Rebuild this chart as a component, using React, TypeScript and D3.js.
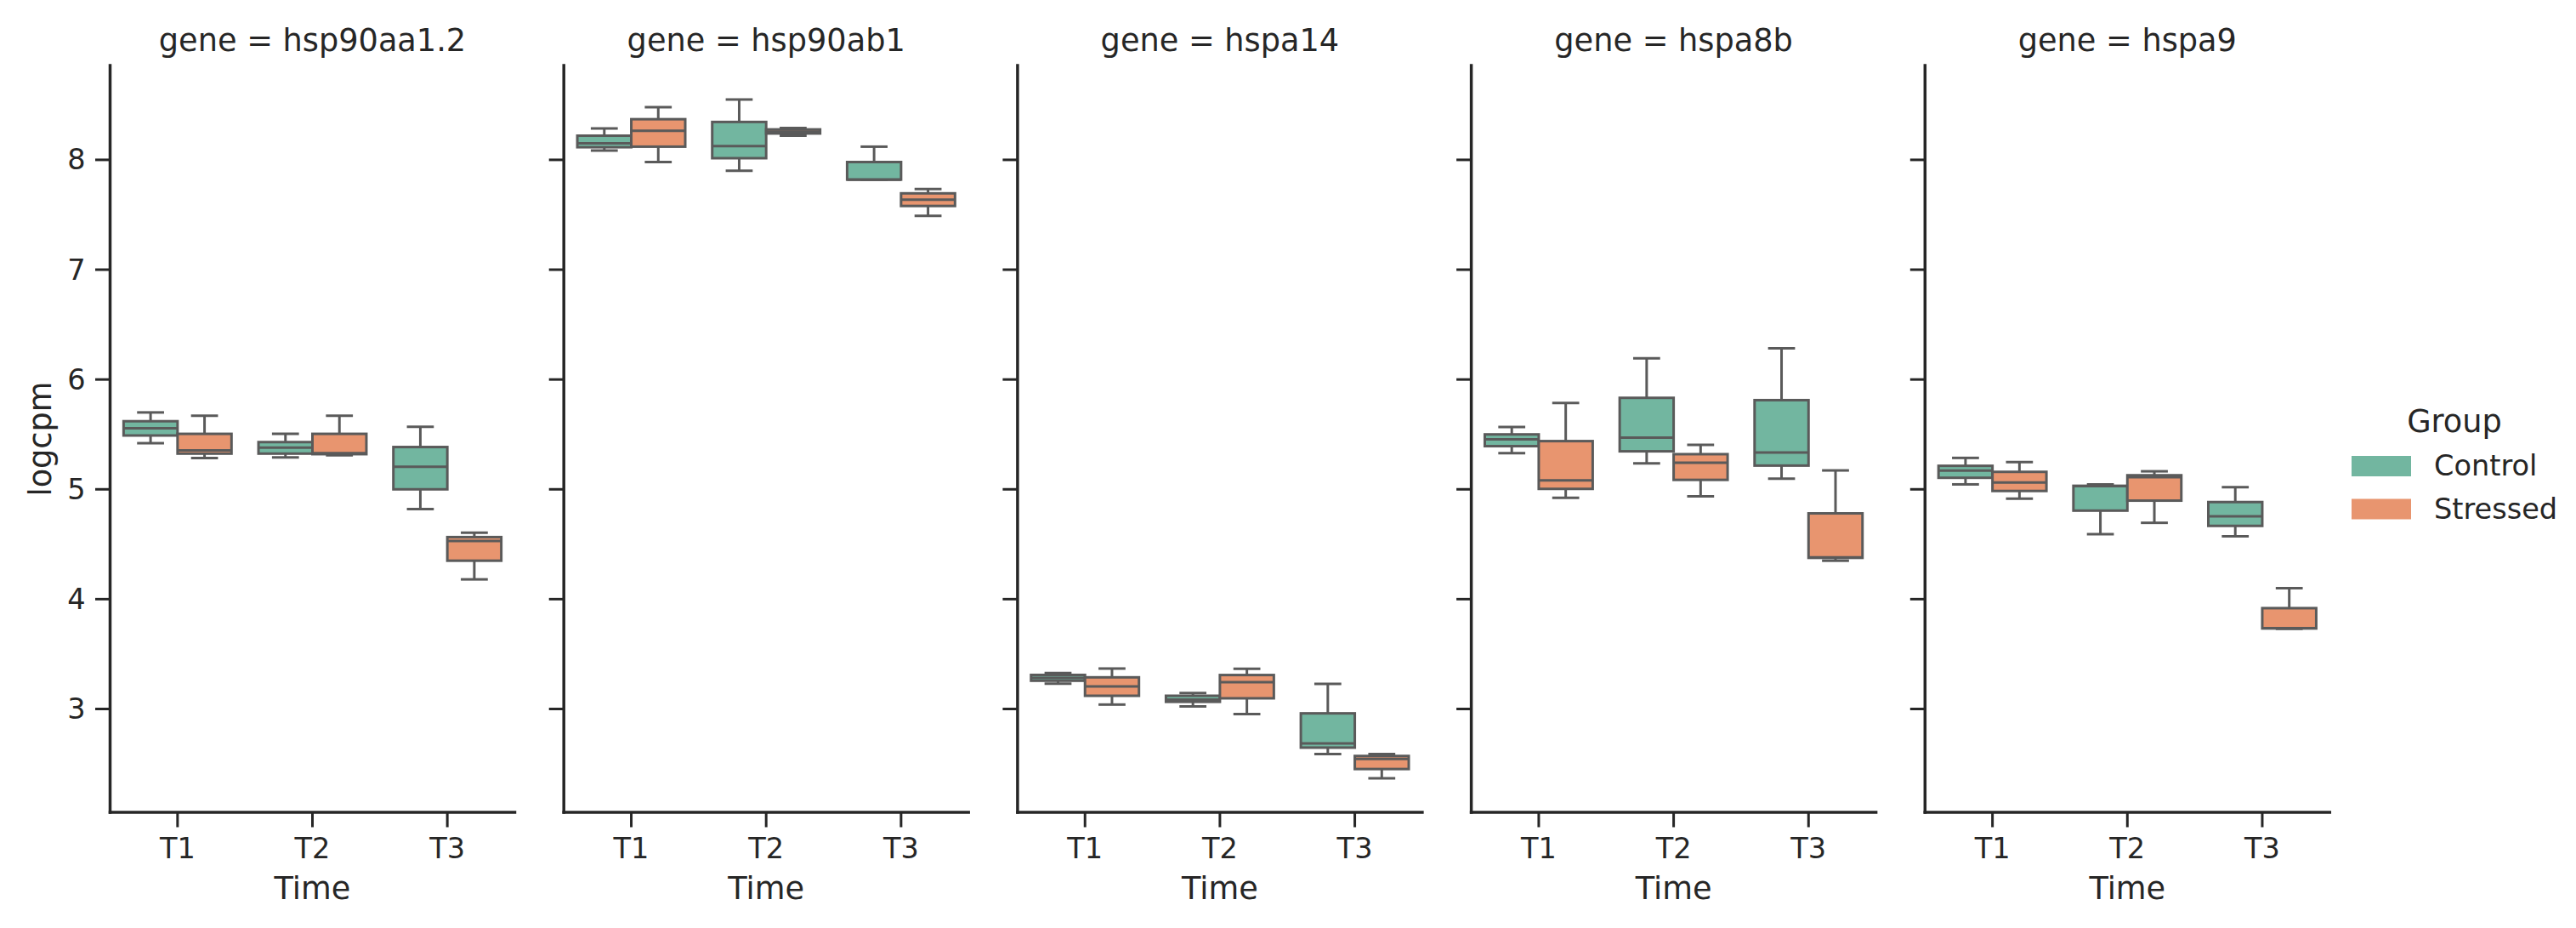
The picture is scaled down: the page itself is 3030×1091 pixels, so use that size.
import React from "react";
import * as d3 from "d3";

const genes = ["hsp90aa1.2", "hsp90ab1", "hspa14", "hspa8b", "hspa9"];
const times = ["T1", "T2", "T3"];
const groups = ["Control", "Stressed"];
const yTicks = [3, 4, 5, 6, 7, 8];

// [whiskerLow, q1, median, q3, whiskerHigh] per gene, per time
const controlStats: number[][][] = [
  [[5.42, 5.49, 5.555, 5.62, 5.70], [5.29, 5.325, 5.38, 5.43, 5.505], [4.82, 5.0, 5.205, 5.385, 5.57]],
  [[8.085, 8.115, 8.15, 8.22, 8.285], [7.9, 8.015, 8.125, 8.345, 8.55], [7.82, 7.82, 7.82, 7.98, 8.12]],
  [[3.23, 3.257, 3.282, 3.31, 3.327], [3.023, 3.065, 3.085, 3.12, 3.145], [2.59, 2.648, 2.687, 2.96, 3.228]],
  [[5.33, 5.393, 5.455, 5.5, 5.568], [5.237, 5.346, 5.47, 5.833, 6.193], [5.096, 5.216, 5.335, 5.812, 6.284]],
  [[5.045, 5.105, 5.17, 5.214, 5.286], [4.592, 4.806, 5.03, 5.032, 5.045], [4.573, 4.667, 4.755, 4.884, 5.019]],
];
const stressedStats: number[][][] = [
  [[5.285, 5.325, 5.355, 5.505, 5.67], [5.31, 5.32, 5.33, 5.505, 5.67], [4.18, 4.35, 4.53, 4.565, 4.605]],
  [[7.98, 8.12, 8.265, 8.37, 8.48], [8.22, 8.24, 8.257, 8.277, 8.29], [7.49, 7.58, 7.637, 7.695, 7.735]],
  [[3.04, 3.12, 3.205, 3.288, 3.368], [2.953, 3.097, 3.244, 3.309, 3.365], [2.368, 2.453, 2.544, 2.572, 2.59]],
  [[4.923, 5.004, 5.082, 5.439, 5.786], [4.936, 5.086, 5.242, 5.32, 5.405], [4.35, 4.376, 4.381, 4.781, 5.172]],
  [[4.915, 4.985, 5.063, 5.159, 5.247], [4.695, 4.897, 5.11, 5.128, 5.164], [3.729, 3.733, 3.736, 3.918, 4.099]],
];

const groupColors = ["#72b6a0", "#e8956f"];

const W = 3030;
const H = 1091;
const FONT = "'DejaVu Sans', sans-serif";
const TEXT = "#262626";
const LINE = "#5a5a5a";

export default function App() {
  const top = 77;
  const bottom = 955;
  const panelLeft0 = 129.5;
  const panelStep = 533.7;
  const panelW = 476;

  const all = [...controlStats, ...stressedStats].flat(2);
  const lo = d3.min(all) as number;
  const hi = d3.max(all) as number;
  const pad = (hi - lo) * 0.05;
  const y = d3.scaleLinear().domain([lo - pad, hi + pad]).range([bottom, top]);
  const x = d3.scaleBand().domain(times).range([0, panelW]).padding(0);
  const bw = x.bandwidth();
  const boxW = bw * 0.4;

  const stats = [controlStats, stressedStats];

  return (
    <svg
      width={W}
      height={H}
      style={{ position: "absolute", left: 0, top: 0, background: "#fff" }}
      fontFamily={FONT}
    >
      <rect x={0} y={0} width={W} height={H} fill="#fff" />
      {genes.map((g, gi) => {
        const left = panelLeft0 + gi * panelStep;
        return (
          <g key={g} transform={`translate(${left},0)`}>
            <text x={panelW / 2} y={60} textAnchor="middle" fontSize={36.7} fill={TEXT}>
              {`gene = ${g}`}
            </text>
            {/* boxes */}
            {times.map((t, ti) => {
              const cx = (x(t) as number) + bw / 2;
              return groups.map((grp, j) => {
                const [wl, q1, med, q3, wh] = stats[j][gi][ti];
                const x0 = cx - 0.4 * bw + j * boxW;
                const mid = x0 + boxW / 2;
                const capHalf = boxW / 4;
                return (
                  <g key={`${t}-${grp}`}>
                    <line x1={mid} x2={mid} y1={y(q3)} y2={y(wh)} stroke={LINE} strokeWidth={3} />
                    <line x1={mid} x2={mid} y1={y(q1)} y2={y(wl)} stroke={LINE} strokeWidth={3} />
                    <line x1={mid - capHalf} x2={mid + capHalf} y1={y(wh)} y2={y(wh)} stroke={LINE} strokeWidth={3} />
                    <line x1={mid - capHalf} x2={mid + capHalf} y1={y(wl)} y2={y(wl)} stroke={LINE} strokeWidth={3} />
                    <rect
                      x={x0}
                      y={y(q3)}
                      width={boxW}
                      height={Math.max(y(q1) - y(q3), 0.5)}
                      fill={groupColors[j]}
                      stroke={LINE}
                      strokeWidth={3}
                    />
                    <line x1={x0} x2={x0 + boxW} y1={y(med)} y2={y(med)} stroke={LINE} strokeWidth={3} />
                  </g>
                );
              });
            })}
            {/* spines */}
            <line x1={0} x2={0} y1={top} y2={bottom} stroke={TEXT} strokeWidth={3.5} strokeLinecap="square" />
            <line x1={0} x2={panelW} y1={bottom} y2={bottom} stroke={TEXT} strokeWidth={3.5} strokeLinecap="square" />
            {/* y ticks */}
            {yTicks.map((v) => (
              <g key={v}>
                <line x1={-17.5} x2={0} y1={y(v)} y2={y(v)} stroke={TEXT} strokeWidth={3} />
                {gi === 0 && (
                  <text x={-29} y={y(v)} textAnchor="end" dominantBaseline="central" fontSize={33.6} fill={TEXT}>
                    {v}
                  </text>
                )}
              </g>
            ))}
            {/* x ticks */}
            {times.map((t) => {
              const cx = (x(t) as number) + bw / 2;
              return (
                <g key={t}>
                  <line x1={cx} x2={cx} y1={bottom} y2={bottom + 17.5} stroke={TEXT} strokeWidth={3} />
                  <text x={cx} y={1009} textAnchor="middle" fontSize={33.6} fill={TEXT}>
                    {t}
                  </text>
                </g>
              );
            })}
            <text x={panelW / 2} y={1057} textAnchor="middle" fontSize={36.7} fill={TEXT}>
              Time
            </text>
            {gi === 0 && (
              <text
                transform={`translate(${47 - panelLeft0},${(top + bottom) / 2}) rotate(-90)`}
                textAnchor="middle"
                dominantBaseline="central"
                fontSize={36.7}
                fill={TEXT}
              >
                logcpm
              </text>
            )}
          </g>
        );
      })}
      {/* legend */}
      <g>
        <text x={2887} y={508} textAnchor="middle" fontSize={36.7} fill={TEXT}>
          Group
        </text>
        {groups.map((grp, j) => (
          <g key={grp} transform={`translate(0,${j * 50.5})`}>
            <rect x={2766} y={536} width={70} height={24} fill={groupColors[j]} />
            <text x={2863} y={559} fontSize={33.6} fill={TEXT}>
              {grp}
            </text>
          </g>
        ))}
      </g>
    </svg>
  );
}
